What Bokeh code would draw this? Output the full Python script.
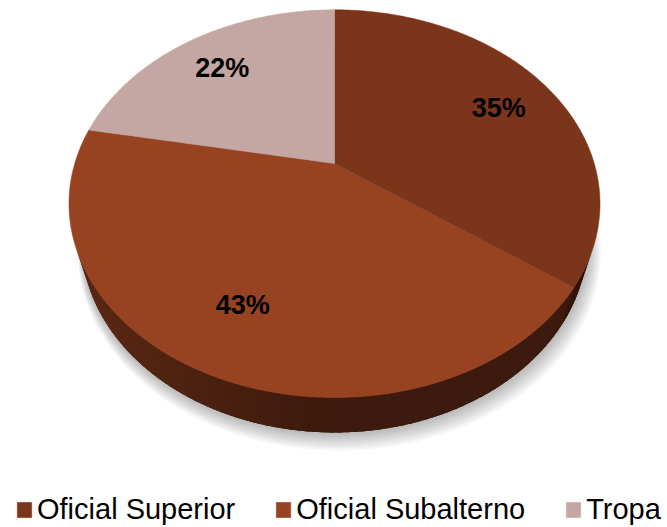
import numpy as np
from bokeh.plotting import figure
from bokeh.models import Range1d, Legend, LegendItem, ColumnDataSource
from bokeh.core.properties import value
from bokeh.embed import file_html
from bokeh.resources import INLINE

# ---- data ----
categories = ["Oficial Superior", "Oficial Subalterno", "Tropa"]
percent = [35, 43, 22]
colors = ["#7B351A", "#974221", "#C4A7A2"]

# ---- layout / camera (styles, not data) ----
W, H = 667, 527
CX, CY = 334.0, 163.0
SIN_T = 0.7143
COS_T = float(np.sqrt(1 - SIN_T ** 2))
DIST = 3.378
FOC = 877.4
DEPTH = 0.222
LABEL_R = 0.76
label_dy = [4, -10, 1]


def proj(u, v, w):
    d = DIST - v * COS_T - w * SIN_T
    return CX + u * FOC / d, CY + (v * SIN_T - w * COS_T) * FOC / d


def ring(theta, r=1.0, w=0.0):
    return proj(r * np.sin(theta), -r * np.cos(theta), w)


def shade(hexcol, f):
    h = hexcol.lstrip("#")
    rgb = [int(h[i:i + 2], 16) for i in (0, 2, 4)]
    return "#%02x%02x%02x" % tuple(int(max(0, min(255, c * f))) for c in rgb)


def visible(t):
    return -1 - DIST * COS_T * np.cos(t) > 0


vals = np.array(percent, float)
fr = vals / vals.sum()
ends = np.cumsum(fr) * 2 * np.pi
starts = ends - fr * 2 * np.pi

p = figure(width=W, height=H, x_range=Range1d(0, W), y_range=Range1d(H, 0),
           output_backend="svg", toolbar_location=None, min_border=0,
           x_axis_type=None, y_axis_type=None)
p.grid.visible = False
p.outline_line_color = None
p.background_fill_color = "white"

# ---- soft shadow ----
th = np.linspace(0, 2 * np.pi, 240)
sh_xs, sh_ys = [], []
for i in range(1, 9):
    x, y = ring(th, r=1.0 + 0.004 * i, w=-DEPTH)
    sh_xs.append(list(x + 0.6 * i))
    sh_ys.append(list(y + 1.1 * i))
p.patches(sh_xs, sh_ys, fill_color="#000000", fill_alpha=0.035, line_alpha=0)

# ---- side walls: dark base under the shaded strips ----
tv = np.linspace(0, 2 * np.pi, 1441)
tv = tv[visible(tv)]
bx1, by1 = ring(tv, w=0.0)
bx2, by2 = ring(tv[::-1], w=-DEPTH)
p.patch(list(bx1) + list(bx2), list(by1) + list(by2),
        fill_color=shade(colors[1], 0.40), line_alpha=0)

wx, wy, wc = [], [], []
for k in range(len(vals)):
    n = max(4, int(fr[k] * 240))
    t = np.linspace(starts[k], ends[k], n + 1)
    step = t[1] - t[0]
    for j in range(n):
        a, b = t[j], t[j + 1]
        m = 0.5 * (a + b)
        if not visible(m):
            continue
        b2 = min(b + 0.6 * step, ends[k]) if j < n - 1 else b
        x1, y1 = ring(np.array([a, b2]), w=0.0)
        x2, y2 = ring(np.array([b2, a]), w=-DEPTH)
        wx.append([x1[0], x1[1], x2[0], x2[1]])
        wy.append([y1[0], y1[1], y2[0], y2[1]])
        f = 0.40 + 0.24 * max(0.0, -np.sin(m))
        wc.append(shade(colors[k], f))
p.patches(wx, wy, fill_color=wc, line_alpha=0)

# ---- top faces ----
tx, ty = [], []
for k in range(len(vals)):
    n = max(8, int(fr[k] * 400))
    t = np.linspace(starts[k], ends[k], n + 1)
    x, y = ring(t)
    cx0, cy0 = proj(0.0, 0.0, 0.0)
    tx.append([cx0] + list(x))
    ty.append([cy0] + list(y))
top_src = ColumnDataSource(dict(xs=tx, ys=ty, color=colors, label=categories))
top_r = p.patches("xs", "ys", source=top_src, fill_color="color",
                  line_color="color", line_width=0.5)

# ---- percentage labels ----
mids = 0.5 * (starts + ends)
lx, ly = ring(mids, r=LABEL_R)
ly = ly + np.array(label_dy, float)
p.text(x=list(lx), y=list(ly), text=[f"{v}%" for v in percent],
       text_font=value("Liberation Sans"), text_font_style="bold",
       text_font_size="27px", text_color="black",
       text_align="center", text_baseline="middle")

# ---- legend ----
items = [LegendItem(label=categories[i], renderers=[top_r], index=i)
         for i in range(len(categories))]
legend = Legend(items=items, orientation="horizontal", location=(15, 1),
                label_text_font="Liberation Sans", label_text_font_size="29px",
                label_text_color="black", glyph_width=18, glyph_height=19,
                label_standoff=4, spacing=39, padding=0, margin=0,
                border_line_alpha=0, background_fill_alpha=0, label_height=20)
p.add_layout(legend)

open("out.html", "w").write(file_html(p, INLINE))
